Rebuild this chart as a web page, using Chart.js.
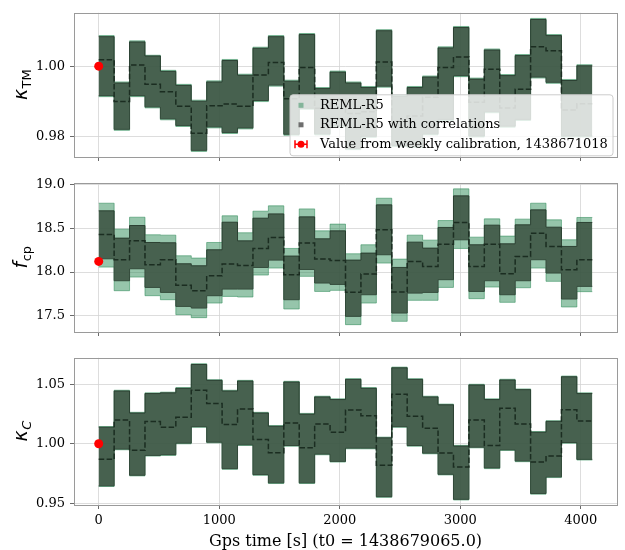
<!DOCTYPE html>
<html>
<head>
<meta charset="utf-8">
<script src="https://cdn.jsdelivr.net/npm/chart.js@4.4.0/dist/chart.umd.min.js"></script>
<style>
  html, body { margin: 0; padding: 0; background: #fff; }
  #wrap { position: relative; width: 625px; height: 550px; }
  canvas { position: absolute; left: 0; }
</style>
</head>
<body>
<div id="wrap">
  <canvas id="c1" width="625" height="170" style="top:0"></canvas>
  <canvas id="c2" width="625" height="175" style="top:170px"></canvas>
  <canvas id="c3" width="625" height="205" style="top:345px"></canvas>
</div>
<script>
// bin edges (s since t0), 128 s bins
var binEdges = [0, 128, 256, 384, 512, 640, 768, 896, 1024, 1152, 1280, 1408, 1536, 1664, 1792, 1920,
  2048, 2176, 2304, 2432, 2560, 2688, 2816, 2944, 3072, 3200, 3328, 3456, 3584, 3712, 3840, 3968, 4096]
var timeTicks = [0, 1000, 2000, 3000, 4000]

// kappa_TM
var ktmLightHi = [1.0087, 0.9955, 1.0072, 1.0031, 0.9988, 0.9948, 0.9903, 0.9958, 1.0019, 0.9977, 1.0054, 1.0087, 0.9960, 1.0093, 0.9939, 0.9986,
  0.9955, 0.9942, 1.0104, 0.9917, 0.9942, 0.9972, 1.0055, 1.0113, 0.9966, 1.0049, 0.9976, 1.0033, 1.0136, 1.0090, 0.9962, 1.0004]
var ktmLightLo = [0.9913, 0.9817, 0.9913, 0.9881, 0.9847, 0.9828, 0.9757, 0.9824, 0.9808, 0.9821, 0.9899, 0.9943, 0.9803, 0.9877, 0.9804, 0.9827,
  0.9762, 0.9797, 0.9940, 0.9771, 0.9768, 0.9804, 0.9845, 0.9970, 0.9798, 0.9867, 0.9826, 0.9845, 0.9966, 0.9951, 0.9798, 0.9798]
var ktmDarkHi = [1.0084, 0.9952, 1.0069, 1.0029, 0.9985, 0.9945, 0.9900, 0.9955, 1.0016, 0.9974, 1.0051, 1.0084, 0.9957, 1.0090, 0.9936, 0.9983,
  0.9952, 0.9939, 1.0101, 0.9914, 0.9939, 0.9969, 1.0052, 1.0110, 0.9963, 1.0046, 0.9973, 1.0030, 1.0133, 1.0087, 0.9959, 1.0001]
var ktmDarkLo = [0.9916, 0.9820, 0.9916, 0.9884, 0.9850, 0.9831, 0.9760, 0.9827, 0.9811, 0.9824, 0.9902, 0.9946, 0.9806, 0.9880, 0.9807, 0.9830,
  0.9765, 0.9800, 0.9943, 0.9774, 0.9771, 0.9807, 0.9848, 0.9973, 0.9801, 0.9870, 0.9829, 0.9848, 0.9969, 0.9954, 0.9801, 0.9801]
var ktmMid = [1.0018, 0.9899, 1.0003, 0.9948, 0.9927, 0.9886, 0.9809, 0.9887, 0.9892, 0.9886, 0.9975, 1.0010, 0.9907, 0.9996, 0.9880, 0.9905,
  0.9865, 0.9870, 1.0012, 0.9842, 0.9858, 0.9911, 0.9996, 1.0026, 0.9897, 0.9991, 0.9881, 0.9934, 1.0055, 1.0044, 0.9875, 0.9893]
var ktmTicks = [0.98, 1.00]

// f_cp
var fcpLightHi = [18.787, 18.490, 18.627, 18.426, 18.422, 18.186, 18.160, 18.338, 18.643, 18.449, 18.696, 18.757, 18.270, 18.722, 18.471, 18.548,
  18.209, 18.312, 18.844, 18.148, 18.422, 18.365, 18.589, 18.951, 18.399, 18.608, 18.411, 18.605, 18.787, 18.597, 18.369, 18.624]
var fcpLightLo = [18.057, 17.787, 17.943, 17.730, 17.684, 17.513, 17.479, 17.646, 17.722, 17.715, 17.966, 18.046, 17.578, 17.951, 17.779, 17.791,
  17.399, 17.646, 18.103, 17.437, 17.677, 17.677, 17.825, 18.270, 17.696, 17.829, 17.654, 17.821, 18.046, 17.894, 17.601, 17.776]
var fcpDarkHi = [18.700, 18.388, 18.532, 18.338, 18.335, 18.095, 18.072, 18.255, 18.570, 18.357, 18.616, 18.665, 18.183, 18.631, 18.380, 18.471,
  18.137, 18.217, 18.768, 18.053, 18.342, 18.274, 18.510, 18.871, 18.312, 18.536, 18.323, 18.540, 18.711, 18.513, 18.293, 18.567]
var fcpDarkLo = [18.152, 17.901, 18.038, 17.825, 17.768, 17.608, 17.589, 17.730, 17.806, 17.806, 18.053, 18.137, 17.684, 18.030, 17.875, 17.859,
  17.494, 17.741, 18.198, 17.532, 17.760, 17.768, 17.913, 18.369, 17.779, 17.901, 17.741, 17.901, 18.141, 17.989, 17.692, 17.837]
var fcpMid = [18.430, 18.141, 18.357, 18.084, 18.141, 17.848, 17.787, 17.958, 18.091, 18.076, 18.270, 18.395, 17.970, 18.331, 18.148, 18.133,
  17.768, 17.977, 18.483, 17.772, 18.122, 18.065, 18.319, 18.567, 18.065, 18.319, 17.981, 18.179, 18.445, 18.293, 18.027, 18.141]
var fcpTicks = [17.5, 18.0, 18.5, 19.0]

// kappa_C
var kcLightHi = [1.0145, 1.0449, 1.0264, 1.0427, 1.0433, 1.0471, 1.0671, 1.0538, 1.0449, 1.0532, 1.0264, 1.0153, 1.0524, 1.0255, 1.0399, 1.0377,
  1.0546, 1.0471, 1.0056, 1.0643, 1.0546, 1.0399, 1.0333, 0.9987, 1.0499, 1.0377, 1.0541, 1.0460, 1.0103, 1.0194, 1.0568, 1.0427]
var kcLightLo = [0.9642, 0.9950, 0.9731, 0.9897, 0.9903, 1.0000, 1.0138, 1.0008, 0.9786, 0.9986, 0.9736, 0.9667, 0.9980, 0.9667, 0.9908, 0.9847,
  0.9958, 0.9958, 0.9551, 1.0138, 0.9980, 0.9916, 0.9739, 0.9529, 0.9966, 0.9792, 0.9944, 0.9850, 0.9578, 0.9717, 1.0005, 0.9864]
var kcDarkHi = [1.0139, 1.0443, 1.0258, 1.0421, 1.0427, 1.0465, 1.0665, 1.0532, 1.0443, 1.0526, 1.0258, 1.0147, 1.0518, 1.0249, 1.0393, 1.0371,
  1.0540, 1.0465, 1.0050, 1.0637, 1.0540, 1.0393, 1.0327, 0.9981, 1.0493, 1.0371, 1.0535, 1.0454, 1.0097, 1.0188, 1.0562, 1.0421]
var kcDarkLo = [0.9648, 0.9956, 0.9737, 0.9903, 0.9909, 1.0006, 1.0144, 1.0014, 0.9792, 0.9992, 0.9742, 0.9673, 0.9986, 0.9673, 0.9914, 0.9853,
  0.9964, 0.9964, 0.9557, 1.0144, 0.9986, 0.9922, 0.9745, 0.9535, 0.9972, 0.9798, 0.9950, 0.9856, 0.9584, 0.9723, 1.0011, 0.9870]
var kcMid = [0.9870, 1.0199, 0.9945, 1.0186, 1.0139, 1.0222, 1.0449, 1.0338, 1.0161, 1.0291, 1.0036, 0.9925, 1.0175, 0.9967, 1.0166, 1.0097,
  1.0283, 1.0235, 0.9820, 1.0416, 1.0230, 1.0130, 0.9922, 0.9806, 1.0199, 0.9986, 1.0299, 1.0166, 0.9848, 0.9898, 1.0285, 1.0191]
var kcTicks = [0.95, 1.00, 1.05]

// weekly calibration reference point
var calibTime = 0
var calibKtm = 1.000
var calibFcp = 18.122
var calibKc = 1.000

var legendLabels = ['REML-R5', 'REML-R5 with correlations', 'Value from weekly calibration, 1438671018']

var LIGHT = 'rgba(46,139,87,0.5)'
var LIGHT_EDGE = 'rgba(46,139,87,0.55)'
var DARK = 'rgba(58,80,64,0.85)'
var DARK_EDGE = 'rgba(38,56,43,0.9)'
var SERIF = '"DejaVu Serif", serif'

function stepPoints (vals) {
  var pts = vals.map(function (v, i) { return { x: binEdges[i], y: v } })
  pts.push({ x: binEdges[vals.length], y: vals[vals.length - 1] })
  return pts
}

function band (hi, lo, fill, edge, order) {
  return [{
    data: stepPoints(hi), stepped: 'before', borderColor: edge, borderWidth: 1,
    backgroundColor: fill, fill: '+1', pointRadius: 0, order: order
  }, {
    data: stepPoints(lo), stepped: 'before', borderColor: edge, borderWidth: 1,
    fill: false, pointRadius: 0, order: order
  }]
}

var frame = {
  id: 'frame',
  afterDraw: function (chart) {
    var a = chart.chartArea
    var ctx = chart.ctx
    ctx.save()
    ctx.strokeStyle = '#9a9a9a'
    ctx.lineWidth = 1
    ctx.strokeRect(Math.round(a.left) + 0.5, Math.round(a.top) + 0.5,
      Math.round(a.right - a.left), Math.round(a.bottom - a.top))
    ctx.restore()
  }
}

var ytitle = {
  id: 'ytitle',
  afterDraw: function (chart, args, o) {
    var a = chart.chartArea
    var ctx = chart.ctx
    var mainFont = 'italic 19px "DejaVu Sans"'
    var subFont = (o.subItalic ? 'italic ' : '') + '13px "DejaVu Sans"'
    ctx.save()
    ctx.fillStyle = '#000'
    ctx.textBaseline = 'alphabetic'
    ctx.font = mainFont
    var w1 = ctx.measureText(o.main).width
    ctx.font = subFont
    var w2 = ctx.measureText(o.sub).width
    ctx.translate(27, (a.top + a.bottom) / 2)
    ctx.rotate(-Math.PI / 2)
    var start = -(w1 + w2) / 2
    ctx.font = mainFont
    ctx.fillText(o.main, start, 0)
    ctx.font = subFont
    ctx.fillText(o.sub, start + w1 + 0.5, 4)
    ctx.restore()
  }
}

var legendBox = {
  id: 'legendBox',
  afterDraw: function (chart) {
    var a = chart.chartArea
    var ctx = chart.ctx
    var x = a.right - 327
    var y = a.top + 82
    var w = 323
    var h = 61
    ctx.save()
    ctx.beginPath()
    if (ctx.roundRect) ctx.roundRect(x, y, w, h, 3)
    else ctx.rect(x, y, w, h)
    ctx.fillStyle = 'rgba(255,255,255,0.8)'
    ctx.fill()
    ctx.strokeStyle = '#cccccc'
    ctx.lineWidth = 1
    ctx.stroke()

    var ix = x + 11
    var rows = [y + 10.5, y + 30, y + 49.5]
    ctx.fillStyle = 'rgba(46,139,87,0.5)'
    ctx.fillRect(ix - 2.5, rows[0] - 2.5, 5, 5)
    ctx.fillStyle = '#6e6e6e'
    ctx.fillRect(ix - 2.5, rows[1] - 2.5, 5, 5)
    // errorbar marker
    ctx.strokeStyle = '#ff0000'
    ctx.fillStyle = '#ff0000'
    ctx.lineWidth = 1.5
    ctx.beginPath()
    ctx.moveTo(ix - 6, rows[2]); ctx.lineTo(ix + 6, rows[2])
    ctx.moveTo(ix - 6, rows[2] - 4); ctx.lineTo(ix - 6, rows[2] + 4)
    ctx.moveTo(ix + 6, rows[2] - 4); ctx.lineTo(ix + 6, rows[2] + 4)
    ctx.stroke()
    ctx.beginPath()
    ctx.arc(ix, rows[2], 3.5, 0, Math.PI * 2)
    ctx.fill()

    ctx.fillStyle = '#000'
    ctx.font = '13px ' + SERIF
    ctx.textBaseline = 'middle'
    legendLabels.forEach(function (t, i) { ctx.fillText(t, x + 30, rows[i]) })
    ctx.restore()
  }
}

function makeChart (id, cfg) {
  var datasets = [{
    data: [{ x: calibTime, y: cfg.calib }], showLine: false, pointRadius: 4.5,
    pointBackgroundColor: '#ff0000', pointBorderWidth: 0, order: 0
  }, {
    data: stepPoints(cfg.mid), stepped: 'before', borderColor: '#1b2d21', borderWidth: 1.5,
    borderDash: [5.5, 2.4], pointRadius: 0, fill: false, order: 1
  }]
  datasets = datasets.concat(band(cfg.darkHi, cfg.darkLo, DARK, DARK_EDGE, 2))
  datasets = datasets.concat(band(cfg.lightHi, cfg.lightLo, LIGHT, LIGHT_EDGE, 3))

  var plugins = [frame, ytitle]
  if (cfg.legend) plugins.push(legendBox)

  return new Chart(document.getElementById(id).getContext('2d'), {
    type: 'line',
    data: { datasets: datasets },
    plugins: plugins,
    options: {
      responsive: false,
      animation: false,
      layout: { padding: { top: cfg.padTop, right: 8, left: 0, bottom: 0 } },
      plugins: {
        legend: { display: false },
        tooltip: { enabled: false },
        ytitle: { main: cfg.label[0], sub: cfg.label[1], subItalic: cfg.label[2] }
      },
      scales: {
        x: {
          type: 'linear',
          min: -205,
          max: 4301,
          afterBuildTicks: function (axis) { axis.ticks = timeTicks.map(function (v) { return { value: v } }) },
          afterFit: function (axis) { axis.height = cfg.xHeight },
          grid: { color: '#d4d4d4', lineWidth: 0.8, drawTicks: true, tickLength: 4, tickColor: '#444' },
          border: { display: false },
          ticks: {
            display: !!cfg.xLabels,
            padding: 4,
            maxRotation: 0,
            color: '#000',
            font: { family: SERIF, size: 13 },
            callback: function (v) { return String(v) }
          },
          title: {
            display: !!cfg.xLabels,
            text: 'Gps time [s] (t0 = 1438679065.0)',
            color: '#000',
            font: { family: SERIF, size: 16, lineHeight: 1 },
            padding: { top: 0, bottom: 0 }
          }
        },
        y: {
          type: 'linear',
          min: cfg.yMin,
          max: cfg.yMax,
          afterBuildTicks: function (axis) { axis.ticks = cfg.yTicks.map(function (v) { return { value: v } }) },
          afterFit: function (axis) { axis.width = 74 },
          grid: { color: '#d4d4d4', lineWidth: 0.8, drawTicks: true, tickLength: 4, tickColor: '#444' },
          border: { display: false },
          ticks: {
            padding: 5,
            color: '#000',
            font: { family: SERIF, size: 13 },
            callback: function (v) { return v.toFixed(cfg.decimals) }
          }
        }
      }
    }
  })
}

makeChart('c1', {
  calib: calibKtm, mid: ktmMid, darkHi: ktmDarkHi, darkLo: ktmDarkLo, lightHi: ktmLightHi, lightLo: ktmLightLo,
  yMin: 0.9741, yMax: 1.0152, yTicks: ktmTicks, decimals: 2, padTop: 7, xHeight: 13,
  label: ['\u03ba', 'TM', false], legend: true
})
makeChart('c2', {
  calib: calibFcp, mid: fcpMid, darkHi: fcpDarkHi, darkLo: fcpDarkLo, lightHi: fcpLightHi, lightLo: fcpLightLo,
  yMin: 17.315, yMax: 19.018, yTicks: fcpTicks, decimals: 1, padTop: 13, xHeight: 13,
  label: ['f', 'cp', false]
})
makeChart('c3', {
  calib: calibKc, mid: kcMid, darkHi: kcDarkHi, darkLo: kcDarkLo, lightHi: kcLightHi, lightLo: kcLightLo,
  yMin: 0.9487, yMax: 1.0721, yTicks: kcTicks, decimals: 2, padTop: 12, xHeight: 45,
  label: ['\u03ba', 'C', true], xLabels: true
})
</script>
</body>
</html>
